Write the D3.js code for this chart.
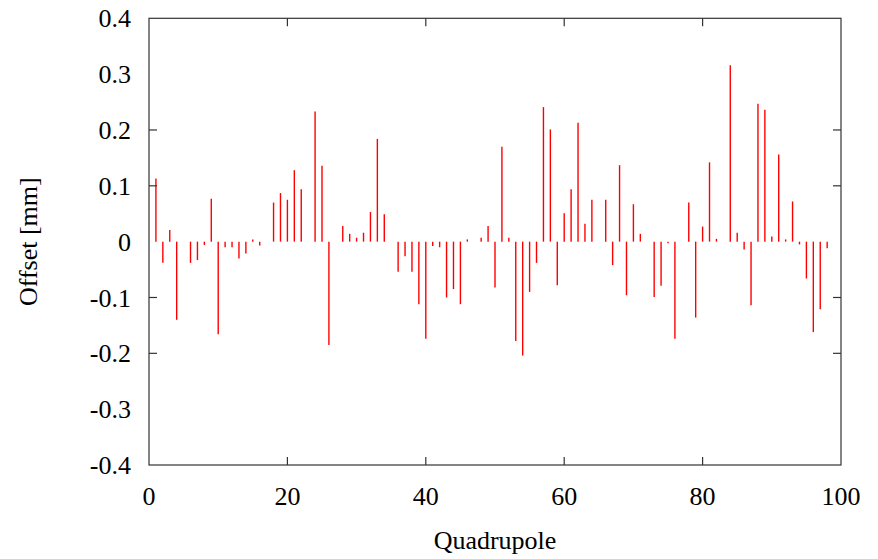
<!DOCTYPE html>
<html>
<head>
<meta charset="utf-8">
<script src="https://cdn.jsdelivr.net/npm/d3@7"></script>
<style>
  html, body { margin: 0; padding: 0; background: #fff; }
  svg text { font-family: "Liberation Serif", "DejaVu Serif", serif; fill: #000; }
</style>
</head>
<body>
<svg id="chart" width="878" height="559"></svg>
<script>
// Quadrupole index and offset [mm]
const quadrupoles = d3.range(1, 99);
const offsets = [
  0.113, -0.038, 0.021, -0.140, 0, -0.038, -0.033, -0.006, 0.077, -0.166,
  -0.010, -0.010, -0.030, -0.021, 0.004, -0.007, 0, 0.070, 0.087, 0.075,
  0.128, 0.094, 0, 0.233, 0.136, -0.185, 0, 0.028, 0.014, 0.007,
  0.016, 0.053, 0.184, 0.049, 0, -0.054, -0.026, -0.054, -0.112, -0.174,
  -0.008, -0.010, -0.100, -0.085, -0.112, 0.004, 0, 0.007, 0.028, -0.082,
  0.170, 0.007, -0.178, -0.204, -0.090, -0.038, 0.241, 0.201, -0.078, 0.051,
  0.094, 0.213, 0.032, 0.075, 0, 0.075, -0.042, 0.137, -0.096, 0.067,
  0.014, 0, -0.099, -0.079, -0.003, -0.174, 0, 0.070, -0.136, 0.027,
  0.142, 0.005, 0, 0.316, 0.016, -0.014, -0.114, 0.247, 0.236, 0.009,
  0.156, 0.004, 0.072, -0.005, -0.066, -0.162, -0.121, -0.012
];
const xTickLabels = ["0", "20", "40", "60", "80", "100"];
const yTickLabels = ["-0.4", "-0.3", "-0.2", "-0.1", "0", "0.1", "0.2", "0.3", "0.4"];
const xTickMarks = [20, 40, 60, 80];
const yTickMarks = [-0.2, -0.1, 0.1, 0.2];

const svg = d3.select("#chart");
const L = 149, R = 841, T = 18.3, B = 465;
const x = d3.scaleLinear().domain([0, 100]).range([L, R]);
const y = d3.scaleLinear().domain([-0.4, 0.4]).range([B, T]);
const axisColor = "#333";
const fs = 26;

// bars (impulses)
svg.append("g").selectAll("line")
  .data(quadrupoles.map((q, i) => ({q, v: offsets[i]})).filter(d => d.v !== 0))
  .join("line")
  .attr("x1", d => x(d.q)).attr("x2", d => x(d.q))
  .attr("y1", y(0)).attr("y2", d => y(d.v))
  .attr("stroke", "#ff0000").attr("stroke-width", 1.4);

// tick labels
svg.append("g").selectAll("text").data(xTickLabels).join("text")
  .attr("x", d => x(+d)).attr("y", B + 40)
  .attr("text-anchor", "middle").attr("font-size", fs).text(d => d);
svg.append("g").selectAll("text").data(yTickLabels).join("text")
  .attr("x", L - 18).attr("y", d => y(+d)).attr("dy", "0.35em")
  .attr("text-anchor", "end").attr("font-size", fs).text(d => d);

// tick marks (inward, both sides)
const tl = 8;
const tg = svg.append("g").attr("stroke", axisColor).attr("stroke-width", 1.2);
xTickMarks.forEach(v => {
  tg.append("line").attr("x1", x(v)).attr("x2", x(v)).attr("y1", B).attr("y2", B - tl);
  tg.append("line").attr("x1", x(v)).attr("x2", x(v)).attr("y1", T).attr("y2", T + tl);
});
yTickMarks.forEach(v => {
  tg.append("line").attr("x1", L).attr("x2", L + tl).attr("y1", y(v)).attr("y2", y(v));
  tg.append("line").attr("x1", R).attr("x2", R - tl).attr("y1", y(v)).attr("y2", y(v));
});

// frame
svg.append("rect").attr("x", L).attr("y", T).attr("width", R - L).attr("height", B - T)
  .attr("fill", "none").attr("stroke", axisColor).attr("stroke-width", 1.2);

// axis titles
svg.append("text").attr("x", (L + R) / 2).attr("y", 549).attr("text-anchor", "middle")
  .attr("font-size", fs).text("Quadrupole");
svg.append("text").attr("transform", `translate(37,${(T + B) / 2}) rotate(-90)`)
  .attr("text-anchor", "middle").attr("font-size", fs).text("Offset [mm]");
</script>
</body>
</html>
